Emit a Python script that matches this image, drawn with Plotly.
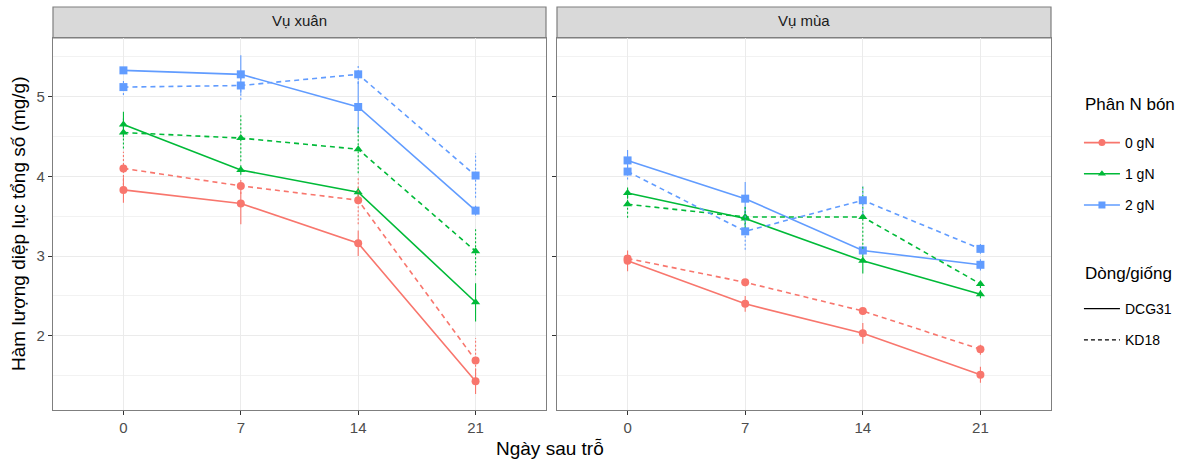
import plotly.graph_objects as go

days = [0, 7, 14, 21]
day_labels = ["0", "7", "14", "21"]
seasons = ["Vụ xuân", "Vụ mùa"]
n_levels = ["0 gN", "1 gN", "2 gN"]
varieties = ["DCG31", "KD18"]

# Vụ xuân
xuan_DCG31_0 = [3.83, 3.66, 3.16, 1.43]
xuan_DCG31_1 = [4.65, 4.08, 3.80, 2.42]
xuan_DCG31_2 = [5.33, 5.28, 4.87, 3.57]
xuan_KD18_0 = [4.10, 3.88, 3.70, 1.69]
xuan_KD18_1 = [4.55, 4.48, 4.34, 3.06]
xuan_KD18_2 = [5.12, 5.14, 5.28, 4.01]
xuan_DCG31_0_err = [0.16, 0.26, 0.16, 0.16]
xuan_DCG31_1_err = [0.16, 0.06, 0.06, 0.24]
xuan_DCG31_2_err = [0.04, 0.24, 0.33, 0.06]
xuan_KD18_0_err = [0.21, 0.10, 0.30, 0.28]
xuan_KD18_1_err = [0.20, 0.29, 0.30, 0.30]
xuan_KD18_2_err = [0.10, 0.18, 0.12, 0.28]

# Vụ mùa
mua_DCG31_0 = [2.94, 2.40, 2.03, 1.51]
mua_DCG31_1 = [3.79, 3.47, 2.94, 2.52]
mua_DCG31_2 = [4.20, 3.72, 3.07, 2.89]
mua_KD18_0 = [2.97, 2.67, 2.31, 1.83]
mua_KD18_1 = [3.65, 3.49, 3.49, 2.65]
mua_KD18_2 = [4.06, 3.31, 3.70, 3.09]
mua_DCG31_0_err = [0.13, 0.10, 0.13, 0.10]
mua_DCG31_1_err = [0.07, 0.15, 0.16, 0.05]
mua_DCG31_2_err = [0.13, 0.21, 0.05, 0.07]
mua_KD18_0_err = [0.04, 0.05, 0.05, 0.07]
mua_KD18_1_err = [0.17, 0.15, 0.40, 0.05]
mua_KD18_2_err = [0.10, 0.23, 0.18, 0.06]

data = {
    ("Vụ xuân", "DCG31"): [(xuan_DCG31_0, xuan_DCG31_0_err), (xuan_DCG31_1, xuan_DCG31_1_err), (xuan_DCG31_2, xuan_DCG31_2_err)],
    ("Vụ xuân", "KD18"): [(xuan_KD18_0, xuan_KD18_0_err), (xuan_KD18_1, xuan_KD18_1_err), (xuan_KD18_2, xuan_KD18_2_err)],
    ("Vụ mùa", "DCG31"): [(mua_DCG31_0, mua_DCG31_0_err), (mua_DCG31_1, mua_DCG31_1_err), (mua_DCG31_2, mua_DCG31_2_err)],
    ("Vụ mùa", "KD18"): [(mua_KD18_0, mua_KD18_0_err), (mua_KD18_1, mua_KD18_1_err), (mua_KD18_2, mua_KD18_2_err)],
}

colors = ["#F8766D", "#00BA38", "#619CFF"]
symbols = ["circle", "triangle-up", "square"]
dashes = {"DCG31": "solid", "KD18": "5px,4px"}
err_dashes = {"DCG31": "solid", "KD18": "2px,2px"}

FONT = "Liberation Sans, Arial, sans-serif"
fig = go.Figure()

for si, season in enumerate(seasons):
    xa = "x" if si == 0 else "x2"
    ya = "y" if si == 0 else "y2"
    for var in varieties:
        for ni in range(3):
            vals, errs = data[(season, var)][ni]
            ex, ey = [], []
            for d, v, e in zip(days, vals, errs):
                ex += [d, d, None]
                ey += [v - e, v + e, None]
            fig.add_trace(go.Scatter(
                x=ex, y=ey, mode="lines", xaxis=xa, yaxis=ya,
                line=dict(color=colors[ni], width=1.1, dash=err_dashes[var]),
                showlegend=False, hoverinfo="skip"))
            fig.add_trace(go.Scatter(
                x=days, y=vals, mode="lines+markers", xaxis=xa, yaxis=ya,
                line=dict(color=colors[ni], width=1.6, dash=dashes[var]),
                marker=dict(color=colors[ni], symbol=symbols[ni], size=8),
                showlegend=False))

# legend entries
for ni, lab in enumerate(n_levels):
    fig.add_trace(go.Scatter(
        x=[None], y=[None], mode="lines+markers", name=lab, legend="legend",
        legendgroup="n" + str(ni),
        line=dict(color=colors[ni], width=1.6),
        marker=dict(color=colors[ni], symbol=symbols[ni], size=7)))
for var in varieties:
    fig.add_trace(go.Scatter(
        x=[None], y=[None], mode="lines", name=var, legend="legend2",
        legendgroup="v" + var,
        line=dict(color="black", width=1.3, dash=("solid" if var == "DCG31" else "4px,3px"))))

axis_common = dict(
    range=[-4.2, 25.2], tickvals=days, ticktext=day_labels,
    showgrid=True, gridcolor="#EBEBEB", gridwidth=1,
    zeroline=False, showline=True, linecolor="#7F7F7F", linewidth=1.2, mirror=True,
    ticks="outside", ticklen=4, tickcolor="#333333",
    tickfont=dict(family=FONT, size=15, color="#4D4D4D"),
)
yaxis_common = dict(
    range=[1.068, 5.736], tickvals=[2, 3, 4, 5],
    showgrid=True, gridcolor="#EBEBEB", gridwidth=1,
    minor=dict(tickvals=[1.5, 2.5, 3.5, 4.5, 5.5], showgrid=True, gridcolor="#F2F2F2", gridwidth=1),
    zeroline=False, showline=True, linecolor="#7F7F7F", linewidth=1.2, mirror=True,
    ticks="outside", ticklen=4, tickcolor="#333333",
    tickfont=dict(family=FONT, size=15, color="#4D4D4D"),
)

d1 = (546 - 53) / 998
d2 = (557 - 53) / 998
fig.update_layout(
    width=1201, height=464,
    margin=dict(l=53, r=150, t=38, b=54),
    paper_bgcolor="white", plot_bgcolor="white",
    xaxis=dict(domain=[0, d1], anchor="y", **axis_common),
    xaxis2=dict(domain=[d2, 1], anchor="y2", **axis_common),
    yaxis=dict(domain=[0, 1], anchor="x", **yaxis_common),
    yaxis2=dict(domain=[0, 1], anchor="x2", matches="y", showticklabels=False,
                **{k: v for k, v in yaxis_common.items() if k not in ("tickfont",)}),
    font=dict(family=FONT),
    legend=dict(
        font=dict(family=FONT, size=14, color="black"),
        x=1.028, y=(410 - 127) / 372, xanchor="left", yanchor="top",
        tracegroupgap=10, bgcolor="rgba(0,0,0,0)", itemwidth=36,
    ),
    legend2=dict(
        font=dict(family=FONT, size=14, color="black"),
        x=1.028, y=(410 - 293) / 372, xanchor="left", yanchor="top",
        tracegroupgap=10, bgcolor="rgba(0,0,0,0)", itemwidth=36,
    ),
)

# legend titles
fig.add_annotation(xref="paper", yref="paper", x=(1083 - 53) / 998, y=(410 - 105) / 372,
                   xanchor="left", yanchor="middle", text="Phân N bón", showarrow=False,
                   font=dict(family=FONT, size=17, color="black"))
fig.add_annotation(xref="paper", yref="paper", x=(1083 - 53) / 998, y=(410 - 273) / 372,
                   xanchor="left", yanchor="middle", text="Dòng/giống", showarrow=False,
                   font=dict(family=FONT, size=17, color="black"))

# facet strips
strip_h = 31 / 372
for si, season in enumerate(seasons):
    x0, x1 = (0, d1) if si == 0 else (d2, 1)
    fig.add_shape(type="rect", xref="paper", yref="paper", x0=x0, x1=x1, y0=1.0, y1=1 + strip_h,
                  fillcolor="#D9D9D9", line=dict(color="#7F7F7F", width=1.2), layer="below")
    fig.add_annotation(xref="paper", yref="paper", x=(x0 + x1) / 2, y=1 + strip_h / 2,
                       xanchor="center", yanchor="middle", yshift=2,
                       text=season, showarrow=False,
                       font=dict(family=FONT, size=15, color="#1A1A1A"))

fig.add_annotation(xref="paper", yref="paper", x=0.498, y=(410 - 449) / 372, yanchor="middle",
                   text="Ngày sau trỗ", showarrow=False,
                   font=dict(family=FONT, size=19, color="black"))
fig.add_annotation(xref="paper", yref="paper", x=(18 - 53) / 998, y=0.5, xanchor="center",
                   text="Hàm lượng diệp lục tổng số (mg/g)", textangle=-90, showarrow=False,
                   font=dict(family=FONT, size=19, color="black"))

fig.write_html("out.html", config={"displayModeBar": False})

with open("out.html", "r", encoding="utf-8") as f:
    html = f.read()
html = html.replace("<body>", '<body style="margin:0;overflow:hidden">', 1)
with open("out.html", "w", encoding="utf-8") as f:
    f.write(html)
